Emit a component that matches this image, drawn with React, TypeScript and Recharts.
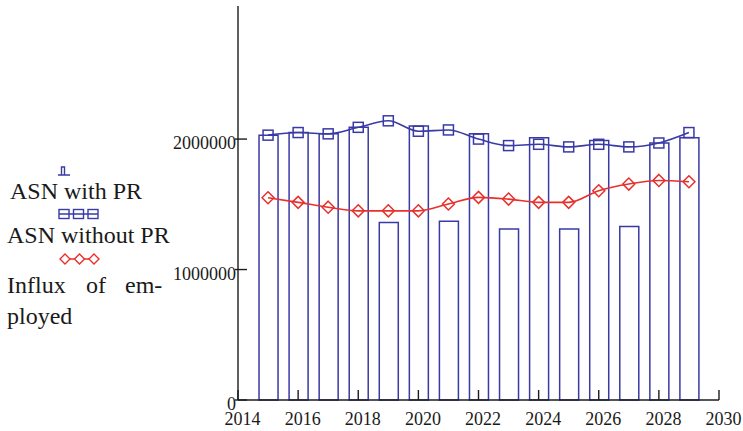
import { Bar, ComposedChart, Legend, Line, XAxis, YAxis } from "recharts";

const years = [2015, 2016, 2017, 2018, 2019, 2020, 2021, 2022, 2023, 2024, 2025, 2026, 2027, 2028, 2029];
const asnWithPr = [2030000, 2050000, 2040000, 2090000, 1360000, 2100000, 1370000, 2040000, 1310000, 2010000, 1310000, 1990000, 1330000, 1970000, 2010000];
const asnWithoutPr = [2030000, 2050000, 2040000, 2090000, 2140000, 2060000, 2070000, 2000000, 1950000, 1960000, 1940000, 1960000, 1940000, 1970000, 2050000];
const influxEmployed = [1550000, 1515000, 1478000, 1450000, 1450000, 1450000, 1502000, 1553000, 1540000, 1515000, 1515000, 1604000, 1655000, 1683000, 1673000];

const yearTicks = [2014, 2016, 2018, 2020, 2022, 2024, 2026, 2028, 2030];
const valueTicks = [0, 1000000, 2000000];

const rows = years.map((year, i) => ({
  year,
  withPr: asnWithPr[i],
  withoutPr: asnWithoutPr[i],
  influx: influxEmployed[i],
}));

const BLUE = "#3a3aa6";
const RED = "#e8302c";
const FRAME = "#1c1c1c";
const INK = "#1a1a1a";
const FONT = "Liberation Serif, DejaVu Serif, serif";
const serif = { fontFamily: FONT };

// frame ticks all point into the plot
const BottomTick = ({ x, y, payload }: any) => (
  <g>
    <line x1={x} y1={y} x2={x} y2={y - 10} stroke={FRAME} strokeWidth={1.4} />
    <text x={x + 4.5} y={y + 25} textAnchor="middle" fontSize={18} fill={INK} style={serif}>
      {payload.value}
    </text>
  </g>
);

const TopTick = ({ x, y }: any) => (
  <line x1={x} y1={y} x2={x} y2={y + 10} stroke={FRAME} strokeWidth={1.4} />
);

const LeftTick = ({ x, y, payload }: any) => (
  <g>
    <line x1={x - 3} y1={y} x2={x + 9} y2={y} stroke={FRAME} strokeWidth={1.4} />
    <text x={x - 2} y={y + 10} textAnchor="end" fontSize={18} fill={INK} style={serif}>
      {payload.value}
    </text>
  </g>
);

const RightTick = ({ x, y }: any) => (
  <line x1={x} y1={y} x2={x - 9} y2={y} stroke={FRAME} strokeWidth={1.4} />
);

const SquareDot = ({ cx, cy, index }: any) => (
  <rect key={index} x={cx - 5} y={cy - 5} width={10} height={10} fill="none" stroke={BLUE} strokeWidth={1.5} />
);

const DiamondDot = ({ cx, cy, index }: any) => (
  <polygon
    key={index}
    points={`${cx},${cy - 6} ${cx + 6},${cy} ${cx},${cy + 6} ${cx - 6},${cy}`}
    fill="none"
    stroke={RED}
    strokeWidth={1.5}
  />
);

const LegendBlock = () => {
  const squares = [64, 78.5, 93];
  const diamonds = [65, 79.5, 94];
  const txt = { fontSize: 24, fill: INK, style: serif };
  return (
    <svg width={180} height={190}>
      {/* bar glyph */}
      <path d="M58 25 H70 M61.5 25 V17 H64.5 V25" fill="none" stroke={BLUE} strokeWidth={1.4} />
      <text x={10} y={49} {...txt}>ASN with PR</text>

      <line x1={59} y1={64} x2={98} y2={64} stroke={BLUE} strokeWidth={1.4} />
      {squares.map((c) => (
        <rect key={c} x={c - 5} y={59.5} width={10} height={9} fill="none" stroke={BLUE} strokeWidth={1.4} />
      ))}
      <text x={7} y={93} {...txt}>ASN without PR</text>

      <line x1={60} y1={109} x2={99} y2={109} stroke={RED} strokeWidth={1.4} />
      {diamonds.map((c) => (
        <polygon
          key={c}
          points={`${c},${104} ${c + 5},${109} ${c},${114} ${c - 5},${109}`}
          fill="white"
          stroke={RED}
          strokeWidth={1.4}
        />
      ))}
      <text y={143} {...txt}>
        <tspan x={7}>Influx</tspan>
        <tspan x={86}>of</tspan>
        <tspan x={125}>em-</tspan>
      </text>
      <text x={7} y={174} {...txt}>ployed</text>
    </svg>
  );
};

export default function App() {
  return (
    <div style={{ position: "absolute", left: 0, top: 0, background: "#fff", fontFamily: FONT }}>
      <ComposedChart width={743} height={431} data={rows} margin={{ top: 6, right: 24, bottom: 0, left: 178 }}>
        <XAxis
          dataKey="year"
          type="number"
          domain={[2014, 2030]}
          ticks={yearTicks}
          interval={0}
          height={31}
          tickSize={0}
          tickMargin={0}
          axisLine={{ stroke: FRAME, strokeWidth: 1.4 }}
          tickLine={false}
          tick={BottomTick}
        />
        <XAxis
          xAxisId="top"
          orientation="top"
          dataKey="year"
          type="number"
          domain={[2014, 2030]}
          ticks={yearTicks}
          interval={0}
          height={0}
          tickSize={0}
          tickMargin={0}
          axisLine={{ stroke: FRAME, strokeWidth: 1.4 }}
          tickLine={false}
          tick={TopTick}
        />
        <YAxis
          type="number"
          domain={[0, 3020000]}
          ticks={valueTicks}
          interval={0}
          width={60}
          tickSize={0}
          tickMargin={0}
          axisLine={{ stroke: FRAME, strokeWidth: 1.4 }}
          tickLine={false}
          tick={LeftTick}
        />
        <YAxis
          yAxisId="right"
          orientation="right"
          type="number"
          domain={[0, 3020000]}
          ticks={valueTicks}
          interval={0}
          width={0}
          tickSize={0}
          tickMargin={0}
          axisLine={{ stroke: FRAME, strokeWidth: 1.4 }}
          tickLine={false}
          tick={RightTick}
        />
        <Legend
          align="center"
          verticalAlign="middle"
          layout="horizontal"
          wrapperStyle={{ left: 0, top: 150, width: 180, height: 190 }}
          content={LegendBlock}
        />
        <Bar dataKey="withPr" name="ASN with PR" barSize={19} fill="none" stroke={BLUE} strokeWidth={1.5} isAnimationActive={false} />
        <Line
          type="monotone"
          dataKey="withoutPr"
          name="ASN without PR"
          stroke={BLUE}
          strokeWidth={1.6}
          dot={SquareDot}
          activeDot={false}
          isAnimationActive={false}
        />
        <Line
          type="monotone"
          dataKey="influx"
          name="Influx of employed"
          stroke={RED}
          strokeWidth={1.6}
          dot={DiamondDot}
          activeDot={false}
          isAnimationActive={false}
        />
      </ComposedChart>
    </div>
  );
}
